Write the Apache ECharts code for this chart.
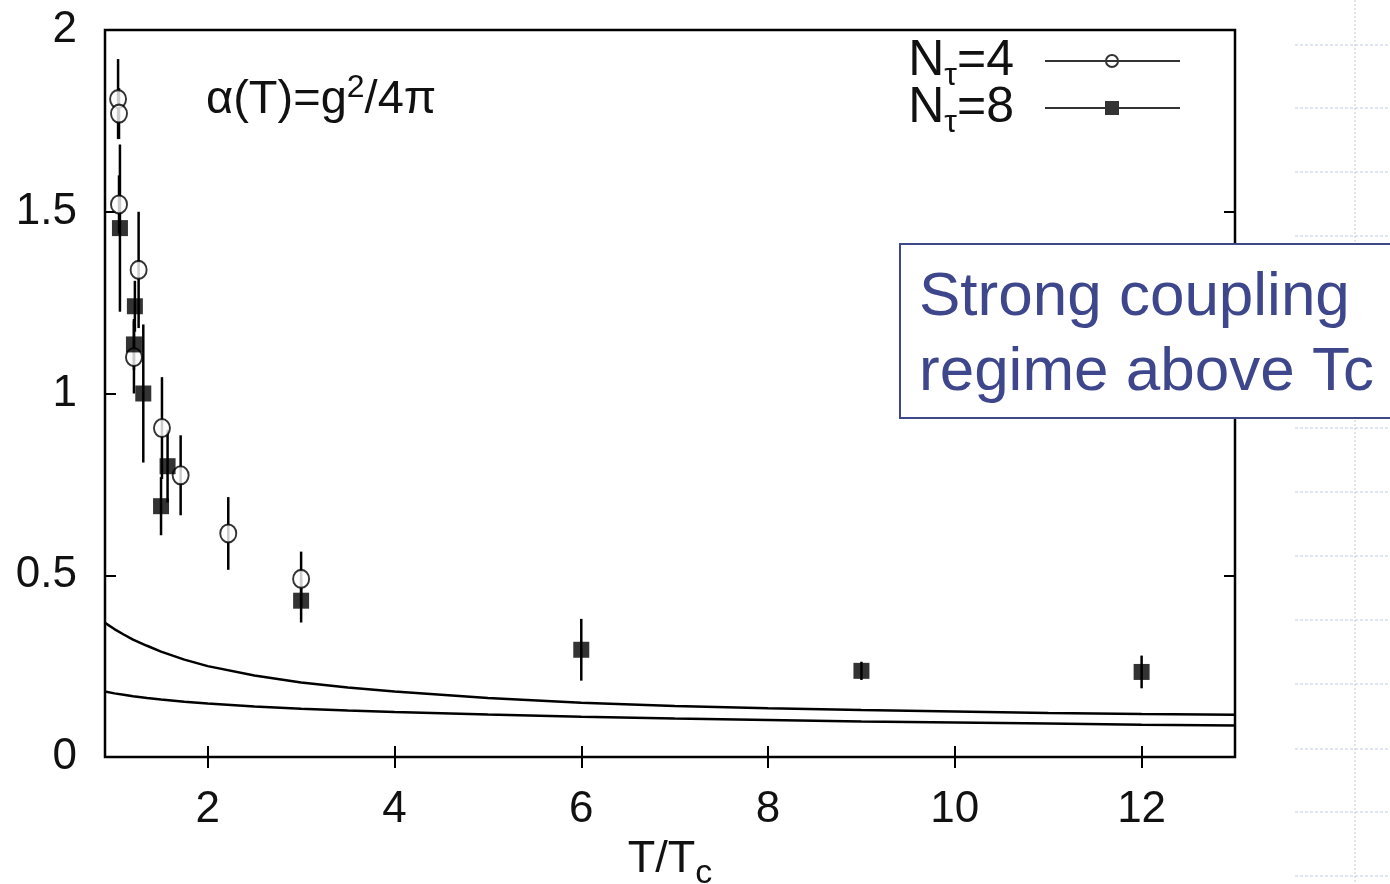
<!DOCTYPE html>
<html><head><meta charset="utf-8">
<script src="https://cdn.jsdelivr.net/npm/echarts@6/dist/echarts.min.js"></script>
<style>html,body{margin:0;padding:0;background:#fff}#c{width:1390px;height:884px}</style>
</head><body><div id="c"></div>
<script>
// ---- data ----
const xTicks = [2, 4, 6, 8, 10, 12];
const yTicks = [0, 0.5, 1, 1.5, 2];

// N_tau = 4 (open circles)
const n4T     = [1.04, 1.05, 1.05, 1.26, 1.21, 1.51, 1.71, 2.22, 3.00];
const n4Alpha = [1.81, 1.77, 1.52, 1.34, 1.10, 0.905, 0.775, 0.615, 0.49];
const n4Err   = [0.11, 0.07, 0.08, 0.16, 0.10, 0.14, 0.11, 0.10, 0.075];

// N_tau = 8 (filled squares)
const n8T     = [1.06, 1.22, 1.21, 1.31, 1.57, 1.50, 3.00, 6.00, 9.00, 12.00];
const n8Alpha = [1.455, 1.24, 1.135, 1.00, 0.80, 0.69, 0.43, 0.295, 0.237, 0.234];
const n8Err   = [0.23, 0.07, 0.07, 0.19, 0.10, 0.08, 0.06, 0.085, 0.025, 0.045];

// perturbative curves
const curveT          = [0.9, 1.0, 1.1, 1.2, 1.35, 1.5, 1.75, 2.0, 2.5, 3.0, 3.5, 4.0, 5.0, 6.0, 7.0, 8.0, 9.0, 10.0, 11.0, 12.0, 13.0];
const curveUpperAlpha = [0.369, 0.352, 0.337, 0.323, 0.306, 0.290, 0.268, 0.250, 0.224, 0.205, 0.191, 0.180, 0.162, 0.149, 0.140, 0.134, 0.129, 0.125, 0.121, 0.118, 0.116];
const curveLowerAlpha = [0.180, 0.175, 0.171, 0.167, 0.162, 0.158, 0.152, 0.147, 0.139, 0.133, 0.128, 0.124, 0.117, 0.111, 0.106, 0.102, 0.098, 0.095, 0.092, 0.089, 0.087];

const seriesNames = ['Nτ=4', 'Nτ=8'];

// ---- build ----
const FONT = '"Liberation Sans", Arial, sans-serif';
const zip = (a, b) => a.map((v, i) => [v, b[i]]);
const errData = (t, a, e) => t.map((v, i) => [v, a[i] - e[i], a[i] + e[i]]);

function errRender(params, api) {
  const p1 = api.coord([api.value(0), api.value(1)]);
  const p2 = api.coord([api.value(0), api.value(2)]);
  return { type: 'line', shape: { x1: p1[0], y1: p1[1], x2: p2[0], y2: p2[1] },
           style: { stroke: '#000', lineWidth: 2.5 } };
}

const iconOpen = 'path://M0,6 L135,6 L135,8 L0,8 Z M60,7 A7,7 0 1,1 74,7 A7,7 0 1,1 60,7 Z M62,7 A5,5 0 1,0 72,7 A5,5 0 1,0 62,7 Z';
const iconFilled = 'path://M0,6 L135,6 L135,8 L0,8 Z M60,0 L74,0 L74,14 L60,14 Z';

const chart = echarts.init(document.getElementById('c'));
const axisTickStyle = { inside: true, length: 11, lineStyle: { color: '#000', width: 2 } };

chart.setOption({
  backgroundColor: '#fff',
  animation: false,
  grid: { left: 105, right: 155, top: 30, bottom: 127, show: true, borderColor: '#000', borderWidth: 2.5,
          backgroundColor: 'transparent', containLabel: false, outerBoundsMode: 'none' },
  xAxis: [
    { type: 'value', min: 0.9, max: 13, position: 'bottom',
      axisLine: { show: false },
      axisTick: Object.assign({ customValues: xTicks }, axisTickStyle),
      axisLabel: { customValues: xTicks, fontSize: 44, color: '#111', fontFamily: FONT, margin: 31 },
      splitLine: { show: false },
      name: '{a|T/T}{b|c}', nameLocation: 'middle', nameGap: 56,
      nameTextStyle: { rich: { a: { fontSize: 45, fontFamily: FONT, color: '#111' },
                               b: { fontSize: 34, fontFamily: FONT, color: '#111', padding: [28, 0, 0, 0] } } } },
    { type: 'value', min: 0.9, max: 13, position: 'top',
      axisLine: { show: false },
      axisTick: Object.assign({ customValues: xTicks }, axisTickStyle),
      axisLabel: { show: false }, splitLine: { show: false } }
  ],
  yAxis: [
    { type: 'value', min: 0, max: 2, interval: 0.5, position: 'left',
      axisLine: { show: false },
      axisTick: Object.assign({ customValues: yTicks }, axisTickStyle),
      axisLabel: { customValues: yTicks, fontSize: 44, color: '#111', fontFamily: FONT, margin: 28 },
      splitLine: { show: false } },
    { type: 'value', min: 0, max: 2, interval: 0.5, position: 'right',
      axisLine: { show: false },
      axisTick: Object.assign({ customValues: yTicks }, axisTickStyle),
      axisLabel: { show: false }, splitLine: { show: false } }
  ],
  legend: {
    orient: 'vertical', right: 205, top: 31, align: 'right',
    itemWidth: 135, itemHeight: 14, itemGap: -9,
    data: [
      { name: seriesNames[0], icon: iconOpen, itemStyle: { color: '#000', borderWidth: 0 } },
      { name: seriesNames[1], icon: iconFilled, itemStyle: { color: '#000', borderWidth: 0 } }
    ],
    formatter: name => '{n|N}{s|τ}{n|' + name.slice(2) + '}',
    textStyle: { padding: [0, 26, 0, 0], rich: {
      n: { fontSize: 50, fontFamily: FONT, color: '#111' },
      s: { fontSize: 32, fontFamily: FONT, color: '#111', padding: [30, 0, 0, 0] } } }
  },
  graphic: [
    { type: 'text', left: 206, top: 72, z: 10,
      style: { text: '{a|α(T)=g}{s|2}{a|/4π}', rich: {
        a: { fontSize: 47, fontFamily: FONT, fill: '#111' },
        s: { fontSize: 32, fontFamily: FONT, fill: '#111', padding: [0, 0, 24, 0] } } } }
  ].concat(
    [45, 108, 172, 236, 428, 492, 556, 620, 684, 749, 812, 876].map(y => ({
      type: 'line', z: 1, shape: { x1: 1295, y1: y, x2: 1390, y2: y },
      style: { stroke: '#c3cbe6', lineWidth: 1, lineDash: [3, 2] } })),
    [{ type: 'line', z: 1, shape: { x1: 1355, y1: 0, x2: 1355, y2: 884 },
       style: { stroke: '#c3cbe6', lineWidth: 1, lineDash: [2, 2] } },
     { type: 'rect', z: 20, shape: { x: 900, y: 244, width: 520, height: 174 },
       style: { fill: '#fff', stroke: '#3f478c', lineWidth: 2 } },
     { type: 'text', z: 21, left: 919, top: 260,
       style: { text: 'Strong coupling\nregime above Tc', fontSize: 62, lineHeight: 75,
                fontFamily: FONT, fill: '#3f478c' } }]
  ),
  series: [
    { name: 'err4', type: 'custom', renderItem: errRender, data: errData(n4T, n4Alpha, n4Err),
      encode: { x: 0, y: [1, 2] }, z: 2, silent: true },
    { name: 'err8', type: 'custom', renderItem: errRender, data: errData(n8T, n8Alpha, n8Err),
      encode: { x: 0, y: [1, 2] }, z: 2, silent: true },
    { name: seriesNames[0], type: 'scatter', data: zip(n4T, n4Alpha), symbol: 'emptyCircle',
      symbolSize: [16, 18], itemStyle: { color: '#000', borderWidth: 2.5 }, z: 4 },
    { name: seriesNames[1], type: 'scatter', data: zip(n8T, n8Alpha), symbol: 'rect',
      symbolSize: 16, itemStyle: { color: '#000' }, z: 5 },
    { name: 'upper', type: 'line', data: zip(curveT, curveUpperAlpha), showSymbol: false,
      smooth: false, lineStyle: { color: '#000', width: 2.5 }, z: 3 },
    { name: 'lower', type: 'line', data: zip(curveT, curveLowerAlpha), showSymbol: false,
      smooth: false, lineStyle: { color: '#000', width: 2.5 }, z: 3 }
  ]
});
</script>
</body></html>
